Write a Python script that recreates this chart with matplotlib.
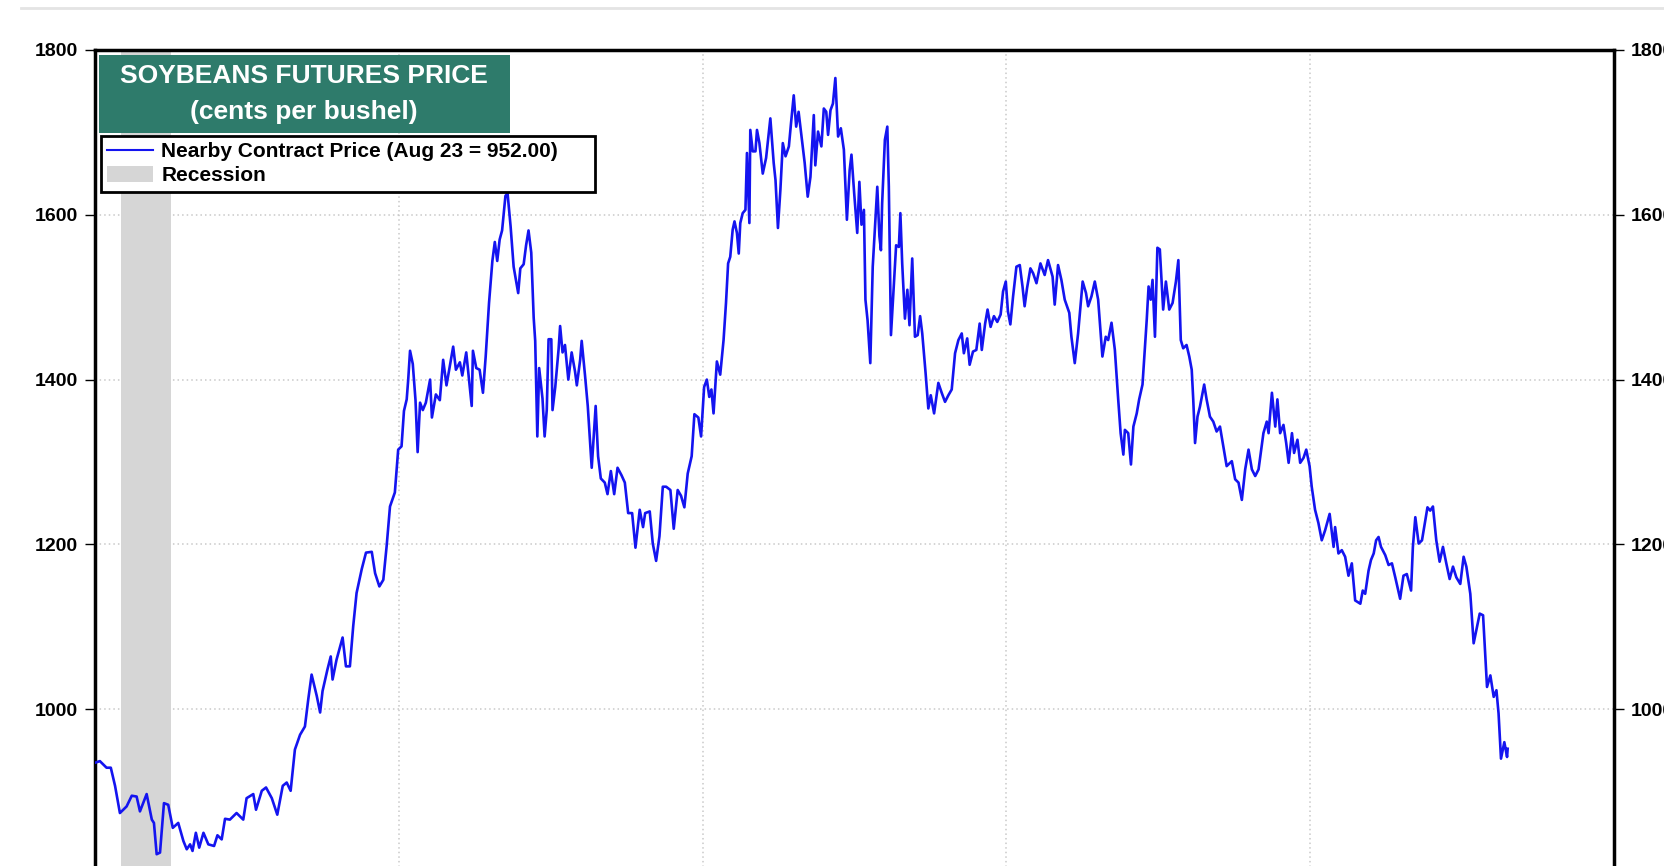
import matplotlib
matplotlib.use("Agg")
import matplotlib.pyplot as plt
from matplotlib.patches import Rectangle, Patch
from matplotlib.lines import Line2D
import numpy as np

plt.rcParams['font.family'] = ['Liberation Sans', 'DejaVu Sans']
plt.rcParams['font.weight'] = 'bold'

# ---------------- data ----------------
title_lines = ["SOYBEANS FUTURES PRICE", "(cents per bushel)"]
series_label = "Nearby Contract Price (Aug 23 = 952.00)"
recession_label = "Recession"
recession_start = 2020.085   # Feb 2020
recession_end = 2020.25      # Apr 2020
y_ticks = [800, 1000, 1200, 1400, 1600, 1800]
year_grid = [2021, 2022, 2023, 2024]
x_start, x_end = 2020, 2025

# time in years since Jan 2020
t_years = [
    0.000, 0.016, 0.038, 0.052, 0.066, 0.082, 0.104, 0.121, 0.137, 0.148, 0.170, 0.187, 0.194,
    0.203, 0.214, 0.227, 0.241, 0.256, 0.274, 0.291, 0.302, 0.313, 0.321, 0.332, 0.343, 0.357,
    0.373, 0.392, 0.403, 0.417, 0.428, 0.444, 0.466, 0.488, 0.499, 0.521, 0.530, 0.549, 0.563,
    0.582, 0.600, 0.618, 0.631, 0.644, 0.658, 0.675, 0.691, 0.702, 0.713, 0.730, 0.741, 0.749,
    0.765, 0.776, 0.782, 0.795, 0.815, 0.826, 0.839, 0.850, 0.861, 0.878, 0.892, 0.911, 0.922,
    0.936, 0.949, 0.960, 0.971, 0.987, 0.998, 1.009, 1.017, 1.026, 1.031,
    1.037, 1.046, 1.055, 1.062, 1.070, 1.079, 1.089, 1.103, 1.109, 1.122, 1.135, 1.146, 1.157,
    1.166, 1.179, 1.188, 1.201, 1.209, 1.222, 1.240, 1.244, 1.255, 1.266, 1.277, 1.286, 1.297,
    1.308, 1.316, 1.324, 1.332, 1.340, 1.351, 1.358, 1.368, 1.378, 1.393, 1.400, 1.411, 1.419,
    1.427, 1.436, 1.444, 1.449, 1.456, 1.462, 1.473, 1.480, 1.487, 1.493, 1.502, 1.506, 1.515,
    1.526, 1.531, 1.539, 1.547, 1.558, 1.569, 1.580, 1.586, 1.597, 1.602, 1.613, 1.622, 1.635,
    1.648, 1.656, 1.665, 1.678, 1.687, 1.698, 1.709, 1.720, 1.733, 1.744, 1.755, 1.768, 1.779,
    1.793, 1.804, 1.811, 1.826, 1.836, 1.847, 1.858, 1.869, 1.880, 1.894, 1.905, 1.918, 1.929,
    1.940, 1.951, 1.964, 1.973, 1.986, 1.995, 2.005, 2.014,
    2.022, 2.029, 2.036, 2.047, 2.058, 2.069, 2.077, 2.084, 2.091, 2.099, 2.105, 2.113, 2.119,
    2.124, 2.132, 2.141, 2.146, 2.154, 2.157, 2.165, 2.174, 2.179, 2.187, 2.198, 2.209, 2.223,
    2.234, 2.240, 2.248, 2.256, 2.264, 2.273, 2.284, 2.291, 2.300, 2.308, 2.316, 2.327, 2.336,
    2.346, 2.355, 2.366, 2.371, 2.380, 2.391, 2.399, 2.407, 2.413, 2.421, 2.429, 2.437, 2.446,
    2.455, 2.465, 2.475, 2.484, 2.490, 2.499, 2.509, 2.516, 2.523, 2.531, 2.536, 2.543, 2.552,
    2.560, 2.575, 2.582, 2.587, 2.591, 2.600, 2.608, 2.613, 2.620, 2.626, 2.637, 2.646, 2.651,
    2.657, 2.666, 2.674, 2.681, 2.690, 2.699, 2.708, 2.716, 2.723, 2.734, 2.743, 2.751, 2.762,
    2.776, 2.787, 2.798, 2.809, 2.820, 2.831, 2.842, 2.853, 2.860, 2.871, 2.879, 2.890, 2.901,
    2.912, 2.919, 2.930, 2.938, 2.948, 2.959, 2.970, 2.981, 2.989, 2.998,
    3.005, 3.013, 3.022, 3.033, 3.044, 3.053, 3.060, 3.068, 3.079, 3.088, 3.099, 3.112, 3.126,
    3.137, 3.152, 3.159, 3.170, 3.181, 3.192, 3.207, 3.214, 3.225, 3.236, 3.251, 3.262, 3.269,
    3.280, 3.291, 3.302, 3.316, 3.327, 3.335, 3.346, 3.357, 3.368, 3.376, 3.385, 3.390, 3.401,
    3.410, 3.418, 3.429, 3.437, 3.448, 3.456, 3.462, 3.468, 3.475, 3.481, 3.489, 3.497, 3.505,
    3.516, 3.525, 3.536, 3.547, 3.558, 3.566, 3.574, 3.582, 3.593, 3.602, 3.610, 3.615, 3.621,
    3.629, 3.637, 3.651, 3.659, 3.670, 3.681, 3.692, 3.703, 3.714, 3.725, 3.742, 3.753, 3.764,
    3.775, 3.786, 3.797, 3.808, 3.819, 3.830, 3.846, 3.857, 3.863, 3.874, 3.885, 3.892, 3.901,
    3.912, 3.921, 3.929, 3.940, 3.947, 3.958, 3.967, 3.978, 3.987, 3.998, 4.005, 4.016, 4.027,
    4.038, 4.049, 4.064, 4.077, 4.082, 4.093, 4.104, 4.115, 4.126, 4.137, 4.148, 4.165, 4.173,
    4.181, 4.192, 4.200, 4.209, 4.217, 4.225, 4.233, 4.247, 4.258, 4.269, 4.280, 4.296, 4.307,
    4.318, 4.332, 4.338, 4.346, 4.357, 4.368, 4.379, 4.386, 4.395, 4.404, 4.415, 4.426, 4.437,
    4.448, 4.459, 4.470, 4.481, 4.494, 4.505, 4.514, 4.527, 4.538, 4.547, 4.558, 4.569, 4.582,
    4.593, 4.604, 4.613, 4.620, 4.628, 4.639, 4.648, 4.650,
]

prices = [
    935, 937, 929, 929, 907, 874, 882, 895, 894, 876, 897, 866, 862,
    824, 826, 886, 884, 856, 862, 840, 830, 836, 828, 850, 832, 850,
    836, 834, 847, 842, 867, 866, 874, 866, 892, 897, 878, 901, 905,
    892, 872, 907, 911, 901, 951, 969, 979, 1012, 1042, 1016, 996, 1022,
    1048, 1064, 1036, 1060, 1087, 1052, 1052, 1101, 1141, 1170, 1190, 1191, 1165,
    1149, 1157, 1198, 1246, 1263, 1315, 1319, 1362, 1376, 1400,
    1435, 1419, 1375, 1312, 1372, 1363, 1372, 1400, 1354, 1382, 1375, 1424, 1393,
    1412, 1440, 1412, 1421, 1405, 1433, 1368, 1435, 1414, 1412, 1384, 1428, 1493,
    1544, 1567, 1544, 1570, 1581, 1623, 1626, 1586, 1537, 1505, 1535, 1540, 1563,
    1581, 1554, 1475, 1447, 1331, 1414, 1377, 1331, 1363, 1449, 1449, 1363, 1391,
    1437, 1465, 1433, 1442, 1400, 1433, 1410, 1393, 1424, 1447, 1405, 1368, 1293,
    1368, 1307, 1280, 1275, 1261, 1289, 1261, 1293, 1284, 1275, 1238, 1238, 1196,
    1242, 1221, 1238, 1240, 1201, 1180, 1210, 1270, 1270, 1266, 1219, 1266, 1259,
    1245, 1286, 1307, 1358, 1354, 1331, 1391, 1400,
    1379, 1388, 1359, 1422, 1406, 1448, 1493, 1541, 1549, 1582, 1592, 1578, 1553,
    1590, 1602, 1606, 1675, 1590, 1703, 1677, 1677, 1703, 1687, 1650, 1669, 1717,
    1663, 1642, 1584, 1630, 1687, 1671, 1683, 1711, 1745, 1707, 1725, 1691, 1663,
    1622, 1646, 1721, 1660, 1701, 1683, 1729, 1725, 1697, 1727, 1735, 1766, 1695,
    1705, 1679, 1594, 1654, 1673, 1626, 1578, 1640, 1588, 1606, 1497, 1472, 1420,
    1537, 1634, 1574, 1557, 1614, 1691, 1707, 1634, 1454, 1493, 1563, 1561, 1602,
    1541, 1474, 1509, 1466, 1547, 1452, 1454, 1477, 1456, 1408, 1365, 1381, 1359,
    1396, 1384, 1373, 1381, 1388, 1432, 1448, 1456, 1432, 1450, 1418, 1434, 1436,
    1468, 1436, 1468, 1485, 1464, 1477, 1470, 1479, 1507, 1519,
    1483, 1467, 1501, 1537, 1539, 1513, 1489, 1511, 1535, 1529, 1517, 1541, 1527,
    1545, 1525, 1491, 1539, 1521, 1497, 1481, 1452, 1420, 1456, 1519, 1505, 1489,
    1501, 1519, 1497, 1428, 1452, 1448, 1469, 1436, 1376, 1335, 1309, 1339, 1335,
    1297, 1343, 1359, 1376, 1394, 1440, 1473, 1513, 1497, 1521, 1452, 1560, 1558,
    1485, 1519, 1485, 1493, 1519, 1545, 1448, 1438, 1442, 1428, 1412, 1376, 1323,
    1355, 1367, 1394, 1376, 1355, 1349, 1337, 1343, 1319, 1295, 1301, 1279, 1275,
    1254, 1291, 1315, 1291, 1283, 1291, 1335, 1349, 1335, 1384, 1343, 1376, 1335,
    1345, 1323, 1299, 1335, 1311, 1327, 1299, 1305, 1315, 1295, 1270, 1242, 1226,
    1205, 1217, 1237, 1197, 1221, 1189, 1193, 1185, 1162, 1177, 1132, 1128, 1144,
    1140, 1168, 1181, 1189, 1205, 1209, 1197, 1187, 1175, 1177, 1160, 1134, 1162,
    1164, 1144, 1197, 1233, 1201, 1205, 1229, 1245, 1241, 1246, 1205, 1179, 1197,
    1177, 1158, 1173, 1160, 1152, 1185, 1173, 1140, 1080, 1096, 1116, 1114, 1027,
    1041, 1015, 1023, 995, 940, 960, 942, 952,
]

years = x_start + np.array(t_years)
prices = np.array(prices)

# ---------------- figure ----------------
W, H = 1664, 866
fig = plt.figure(figsize=(W / 100, H / 100), dpi=100)
fig.patch.set_facecolor('white')


def fx(px):
    return px / W


def fy(py):
    return 1 - py / H


line_color = '#1414f0'
rec_color = '#d6d6d6'

ax = fig.add_axes([fx(95), fy(874), fx(1614) - fx(95), fy(50) - fy(874)])
ax.set_xlim(x_start, x_end)
ax.set_ylim(y_ticks[0], y_ticks[-1])
ax.axvspan(recession_start, recession_end, color=rec_color, lw=0, zorder=1)
ax.plot(years, prices, color=line_color, lw=1.9, zorder=3, solid_joinstyle='round')

ax.set_yticks(y_ticks)
ax.set_xticks(year_grid)
ax.grid(True, color='#c9c9c9', linestyle=(0, (1, 2)), lw=1.1, zorder=0)
ax.set_axisbelow(True)
ax.tick_params(axis='x', length=0, labelbottom=False)
ax.tick_params(axis='y', direction='out', length=7, width=1, pad=5, labelsize=14,
               left=True, right=True, labelleft=True, labelright=True)
for s in ax.spines.values():
    s.set_linewidth(2.5)
    s.set_color('black')

# top separator line
fig.add_artist(Line2D([fx(21), 1.0], [fy(8), fy(8)], transform=fig.transFigure,
                      color='#e4e4e4', lw=2))

# title box
fig.add_artist(Rectangle((fx(99), fy(133)), fx(510) - fx(99), fy(55) - fy(133),
                         transform=fig.transFigure, facecolor='#2e7b6b',
                         edgecolor='none', zorder=5))
fig.text(fx(304), fy(76), title_lines[0], ha='center', va='center', color='white',
         fontsize=19, fontweight='bold', zorder=6)
fig.text(fx(304), fy(112), title_lines[1], ha='center', va='center', color='white',
         fontsize=19, fontweight='bold', zorder=6)

# legend
handles = [Line2D([], [], color=line_color, lw=1.5), Patch(facecolor=rec_color, edgecolor='none')]
leg = ax.legend(handles, [series_label, recession_label], loc='upper left',
                bbox_to_anchor=(fx(101), fy(191), fx(595) - fx(101), fy(136) - fy(191)),
                bbox_transform=fig.transFigure, mode='expand', frameon=True,
                fancybox=False, edgecolor='black', framealpha=1, fontsize=15,
                handlelength=2.2, handleheight=0.8, borderpad=0.3, labelspacing=0.22,
                handletextpad=0.4, borderaxespad=0)
leg.get_frame().set_linewidth(2)
leg.set_zorder(7)

fig.savefig('out.png', dpi=100)
